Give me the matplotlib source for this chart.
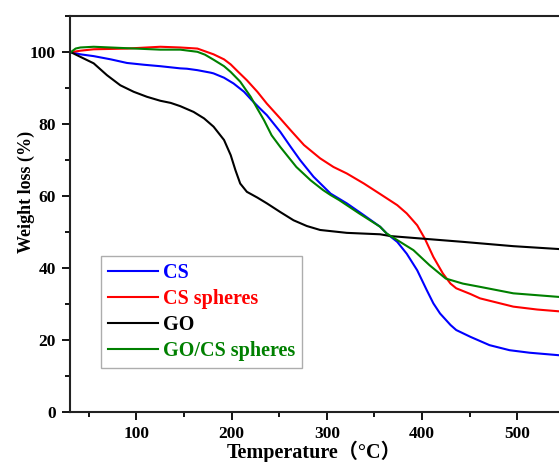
import matplotlib
matplotlib.use("Agg")
import matplotlib.pyplot as plt
from matplotlib.ticker import MultipleLocator

plt.rcParams['font.family'] = ['Liberation Serif', 'Noto Sans CJK SC']
plt.rcParams['font.weight'] = 'bold'

# temperature (C) and weight (%)
cs_t = [31, 41, 55, 73, 90, 108, 125, 146, 153, 164, 178, 181, 192, 202, 213, 221, 230, 237, 251, 262,
        272, 286, 304, 321, 339, 356, 363, 374, 384, 395, 405, 412, 419, 430, 436, 451, 471, 492, 513, 544]
cs_w = [100, 99.4, 98.9, 98.0, 97.0, 96.5, 96.1, 95.5, 95.4, 95.0, 94.3, 94.1, 92.9, 91.3, 89.0, 86.7, 84.3, 82.5, 77.9, 73.7,
        70.0, 65.4, 60.7, 58.0, 54.7, 51.5, 49.6, 47.3, 44.0, 39.4, 33.9, 30.2, 27.4, 24.2, 22.8, 20.9, 18.6, 17.2, 16.5, 15.8]

css_t = [31, 41, 55, 90, 125, 146, 164, 181, 192, 199, 207, 216, 227, 237, 251, 262, 276, 293, 307, 321,
         339, 356, 374, 384, 395, 403, 412, 422, 430, 436, 451, 461, 496, 521, 544]
css_w = [100, 100.4, 100.8, 101.0, 101.5, 101.3, 101.0, 99.4, 98.0, 96.6, 94.5, 92.2, 89.0, 85.7, 81.6, 78.3, 74.2, 70.5, 68.1, 66.3,
         63.5, 60.6, 57.5, 55.2, 51.9, 48.2, 43.1, 38.5, 35.7, 34.4, 32.8, 31.6, 29.3, 28.5, 28.0]

go_t = [31, 41, 55, 69, 83, 97, 111, 125, 136, 146, 160, 171, 181, 192, 199, 204, 209, 216, 227,
        237, 251, 265, 279, 293, 321, 356, 367, 443, 496, 544]
go_w = [100, 98.7, 96.9, 93.6, 90.8, 89.0, 87.6, 86.5, 85.9, 85.0, 83.4, 81.6, 79.3, 75.6, 71.4, 67.2, 63.5, 61.2, 59.6,
        58.0, 55.6, 53.3, 51.7, 50.6, 49.8, 49.4, 48.9, 47.3, 46.1, 45.3]

gocs_t = [31, 36, 41, 55, 90, 125, 146, 164, 172, 181, 192, 199, 209, 220, 227, 234, 242, 251, 268, 283,
          296, 304, 313, 334, 356, 363, 377, 391, 408, 425, 443, 461, 496, 544]
gocs_w = [100, 101.0, 101.3, 101.5, 101.1, 100.7, 100.7, 100.1, 99.3, 97.9, 96.1, 94.5, 91.8, 87.6, 84.3, 81.1, 76.9, 73.7, 68.1, 64.4,
          61.7, 60.3, 58.9, 55.2, 51.5, 49.6, 47.3, 45.0, 40.8, 37.1, 35.7, 34.8, 33.0, 32.0]

fig = plt.figure(figsize=(5.59, 4.62), dpi=100)
ax = fig.add_axes([0.125, 0.108, 0.875, 0.857])

ax.plot(cs_t, cs_w, color='#0000ff', lw=1.5, label='CS')
ax.plot(css_t, css_w, color='#ff0000', lw=1.5, label='CS spheres')
ax.plot(go_t, go_w, color='black', lw=1.5, label='GO')
ax.plot(gocs_t, gocs_w, color='#008000', lw=1.5, label='GO/CS spheres')

ax.set_xlim(30, 544)
ax.set_ylim(0, 110)
ax.xaxis.set_major_locator(MultipleLocator(100))
ax.xaxis.set_minor_locator(MultipleLocator(50))
ax.yaxis.set_major_locator(MultipleLocator(20))
ax.yaxis.set_minor_locator(MultipleLocator(10))
ax.tick_params(which='major', direction='out', length=6, width=1.3, labelsize=12.5, pad=4)
ax.tick_params(which='minor', direction='out', length=3.5, width=1.3)
for lab in ax.get_xticklabels() + ax.get_yticklabels():
    lab.set_fontweight('bold')

for s in ['left', 'bottom', 'top']:
    ax.spines[s].set_linewidth(1.5)
    ax.spines[s].set_color('#222222')
ax.spines['right'].set_visible(False)

ax.set_ylabel('Weight loss (%)', fontsize=13, fontweight='bold')
ax.yaxis.set_label_coords(-0.072, 0.556)
ax.set_xlabel('Temperature（°C）', fontsize=14.5, fontweight='bold', labelpad=-1)

leg = ax.legend(loc='lower left', bbox_to_anchor=(0.063, 0.111), borderaxespad=0, fontsize=14.5,
                frameon=True, fancybox=False, handlelength=2.5, handletextpad=0.25,
                borderpad=0.35, labelspacing=0.3)
leg.get_frame().set_edgecolor('#999999')
leg.get_frame().set_linewidth(1.0)
for txt, line in zip(leg.get_texts(), leg.get_lines()):
    txt.set_color(line.get_color())
    txt.set_fontweight('bold')

fig.savefig('out.png', dpi=100)
